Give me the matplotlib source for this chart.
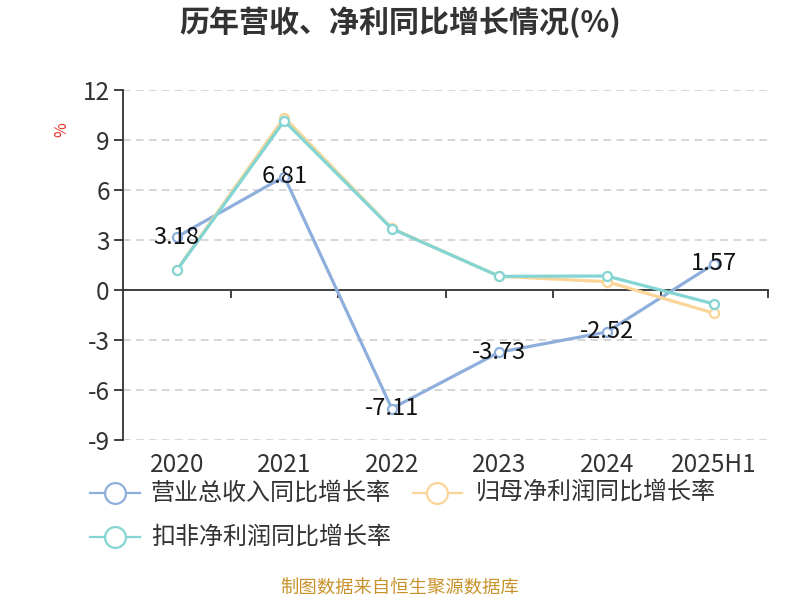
import matplotlib
matplotlib.use("Agg")
import matplotlib.pyplot as plt
from matplotlib.lines import Line2D
import matplotlib.transforms as mtransforms

plt.rcParams['font.family'] = ['Noto Sans CJK SC', 'DejaVu Sans']

categories = ['2020', '2021', '2022', '2023', '2024', '2025H1']
revenue_growth = [3.18, 6.81, -7.11, -3.73, -2.52, 1.57]
netprofit_growth = [1.20, 10.35, 3.70, 0.82, 0.50, -1.40]
deducted_growth = [1.18, 10.15, 3.68, 0.82, 0.84, -0.84]
series_names = ['营业总收入同比增长率', '归母净利润同比增长率', '扣非净利润同比增长率']
yticks = [-9, -6, -3, 0, 3, 6, 9, 12]

colors = ['#8eaedc', '#fbd598', '#82d5d3']
W, H = 800, 600

def fx(px):
    return px / W

def fy(py):
    return 1 - py / H

fig = plt.figure(figsize=(8, 6), dpi=100)
ax = fig.add_axes([fx(123), fy(440), fx(768) - fx(123), fy(90) - fy(440)])

x = list(range(len(categories)))
for i, (vals, c) in enumerate(zip([revenue_growth, netprofit_growth, deducted_growth], colors)):
    ax.plot(x, vals, color=c, lw=2.3, marker='o', markersize=6.5,
            markerfacecolor='white', markeredgecolor=c, markeredgewidth=1.6,
            zorder=3 + i, solid_joinstyle='round')

for xi, v in zip(x, revenue_growth):
    ax.text(xi, v, f'{v:.2f}', ha='center', va='center', fontsize=17,
            color='#111111', zorder=10)

ax.set_xlim(-0.5, len(categories) - 0.5)
ax.set_ylim(-9, 12)
ax.set_yticks(yticks)
ax.set_yticklabels([str(t) for t in yticks], fontsize=17.5, color='#333333')
ax.yaxis.grid(True, linestyle=(0, (5, 3.5)), color='#cccccc', lw=1.1)
ax.set_axisbelow(True)

for s in ['top', 'right']:
    ax.spines[s].set_visible(False)
ax.spines['left'].set_color('#333333')
ax.spines['left'].set_linewidth(1.3)
ax.spines['bottom'].set_position(('data', 0))
ax.spines['bottom'].set_color('#333333')
ax.spines['bottom'].set_linewidth(1.3)
ax.tick_params(axis='y', length=6.5, width=1.3, color='#333333', pad=3)

bounds = [i + 0.5 for i in range(len(categories))]
ax.set_xticks(bounds)
ax.set_xticklabels([''] * len(bounds))
ax.tick_params(axis='x', length=6, width=1.3, color='#333333', direction='out')

trans = mtransforms.blended_transform_factory(ax.transData, ax.transAxes)
for xi, lab in zip(x, categories):
    ax.annotate(lab, xy=(xi, 0), xycoords=trans, xytext=(0, -18),
                textcoords='offset points', ha='center', va='center',
                fontsize=17.5, color='#333333')

fig.text(fx(62), fy(130), '%', color='#e8332a', fontsize=11.5, rotation=90,
         ha='center', va='center')

fig.text(0.5, fy(22), '历年营收、净利同比增长情况(%)', ha='center', va='center',
         fontsize=21.6, fontweight='bold', color='#333333')

legend_pos = [(90, 140, 115, 151, 493), (413, 462, 437, 476, 493), (90, 140, 115, 151, 537)]
for (x0, x1, xc, xt, yy), name, c in zip(legend_pos, series_names, colors):
    fig.add_artist(Line2D([fx(x0), fx(x1)], [fy(yy), fy(yy)], color=c, lw=1.6,
                          transform=fig.transFigure))
    fig.add_artist(Line2D([fx(xc)], [fy(yy)], marker='o', markersize=15,
                          markerfacecolor='white', markeredgecolor=c,
                          markeredgewidth=1.6, transform=fig.transFigure))
    fig.text(fx(xt), fy(yy), name, ha='left', va='center', fontsize=17.3,
             color='#333333')

fig.text(0.5, fy(589), '制图数据来自恒生聚源数据库', ha='center', va='center',
         fontsize=13.2, color='#c8932b')

fig.savefig('out.png', dpi=100)
